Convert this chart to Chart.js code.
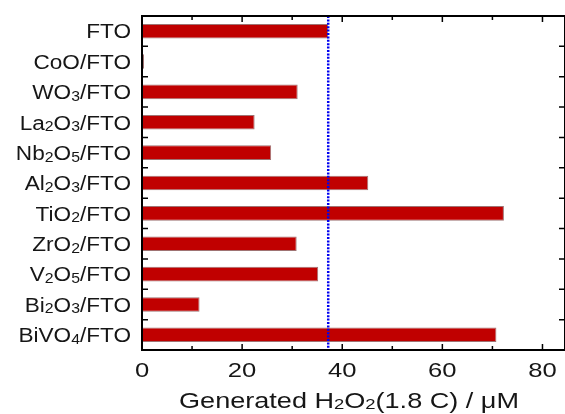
<!DOCTYPE html>
<html>
<head>
<meta charset="utf-8">
<script src="https://cdn.jsdelivr.net/npm/chart.js@4/dist/chart.umd.min.js"></script>
<style>
html, body { margin: 0; padding: 0; background: #fff; }
#wrap { width: 565px; height: 414px; }
</style>
</head>
<body>
<div id="wrap"><canvas id="h2o2Chart"></canvas></div>
<script>
// samples, top to bottom
const samples = ['FTO', 'CoO/FTO', 'WO₃/FTO', 'La₂O₃/FTO', 'Nb₂O₅/FTO', 'Al₂O₃/FTO',
                 'TiO₂/FTO', 'ZrO₂/FTO', 'V₂O₅/FTO', 'Bi₂O₃/FTO', 'BiVO₄/FTO'];
// generated H2O2 (uM)
const h2o2Values = [37.2, 0.4, 31.1, 22.5, 25.8, 45.2, 72.3, 30.9, 35.2, 11.5, 70.8];
const xTicks = [0, 20, 40, 60, 80];
const xMinorTicks = [10, 30, 50, 70];
const xTitle = 'Generated H₂O₂(1.8 C) / μM';
const ftoLevel = h2o2Values[0];

const FONT = 'Liberation Sans';
const subDigits = { '₀': '0', '₁': '1', '₂': '2', '₃': '3', '₄': '4', '₅': '5' };

// the original figure's text is a bit wide, so draw it stretched, with small subscripts
function textRuns(text) {
    const runs = [];
    for (const ch of text) {
        const sub = subDigits[ch] !== undefined;
        const c = sub ? subDigits[ch] : ch;
        const last = runs[runs.length - 1];
        if (last && last.sub === sub) last.t += c;
        else runs.push({ t: c, sub: sub });
    }
    return runs;
}

function drawLabel(ctx, text, x, y, size, sx, align) {
    const runs = textRuns(text);
    let w = 0;
    runs.forEach(function (r) {
        ctx.font = (r.sub ? Math.round(size * 0.7) : size) + 'px "' + FONT + '"';
        r.w = ctx.measureText(r.t).width;
        w += r.w;
    });
    let start = x;
    if (align === 'right') start = x - w * sx;
    if (align === 'center') start = x - w * sx / 2;
    ctx.save();
    ctx.translate(start, y);
    ctx.scale(sx, 1);
    ctx.textBaseline = 'alphabetic';
    ctx.textAlign = 'left';
    let cx = 0;
    runs.forEach(function (r) {
        ctx.font = (r.sub ? Math.round(size * 0.7) : size) + 'px "' + FONT + '"';
        ctx.fillText(r.t, cx, r.sub ? size * 0.08 : 0);
        cx += r.w;
    });
    ctx.restore();
}

const labelPlugin = {
    id: 'labels',
    afterDraw(chart) {
        const ctx = chart.ctx;
        const a = chart.chartArea;
        const x = chart.scales.x;
        const y = chart.scales.y;
        ctx.save();
        ctx.fillStyle = '#161616';
        samples.forEach(function (s, i) {
            drawLabel(ctx, s, a.left - 11, y.getPixelForValue(i) + 7.3, 20, 1.13, 'right');
        });
        xTicks.forEach(function (v) {
            drawLabel(ctx, String(v), x.getPixelForValue(v), a.bottom + 26.5, 21, 1.22, 'center');
        });
        drawLabel(ctx, xTitle, 349, a.bottom + 57.5, 22, 1.23, 'center');
        ctx.restore();
    }
};

const framePlugin = {
    id: 'frame',
    afterDatasetsDraw(chart) {
        const ctx = chart.ctx;
        const a = chart.chartArea;
        const x = chart.scales.x;
        const y = chart.scales.y;
        ctx.save();

        // dotted reference line at the bare FTO level
        const lx = x.getPixelForValue(ftoLevel);
        ctx.strokeStyle = '#0000f0';
        ctx.lineWidth = 2.5;
        ctx.setLineDash([2, 1.4]);
        ctx.beginPath();
        ctx.moveTo(lx, a.top);
        ctx.lineTo(lx, a.bottom);
        ctx.stroke();

        // frame
        ctx.setLineDash([]);
        ctx.strokeStyle = '#000';
        ctx.lineWidth = 2;
        ctx.strokeRect(a.left, a.top, a.right - a.left, a.bottom - a.top);

        // x ticks, inward, bottom and top
        ctx.lineWidth = 1.5;
        ctx.beginPath();
        xTicks.forEach(function (v) {
            const px = x.getPixelForValue(v);
            ctx.moveTo(px, a.bottom); ctx.lineTo(px, a.bottom - 6);
            ctx.moveTo(px, a.top); ctx.lineTo(px, a.top + 6);
        });
        xMinorTicks.forEach(function (v) {
            const px = x.getPixelForValue(v);
            ctx.moveTo(px, a.bottom); ctx.lineTo(px, a.bottom - 4);
            ctx.moveTo(px, a.top); ctx.lineTo(px, a.top + 4);
        });
        // y ticks between categories
        for (let i = 0; i < samples.length - 1; i++) {
            const py = (y.getPixelForValue(i) + y.getPixelForValue(i + 1)) / 2;
            ctx.moveTo(a.left, py); ctx.lineTo(a.left + 6, py);
            ctx.moveTo(a.right, py); ctx.lineTo(a.right - 6, py);
        }
        ctx.stroke();
        ctx.restore();
    }
};

const ctx = document.getElementById('h2o2Chart').getContext('2d');
new Chart(ctx, {
    type: 'bar',
    data: {
        labels: samples,
        datasets: [{
            label: 'Generated H2O2',
            data: h2o2Values,
            backgroundColor: '#c00000',
            borderColor: 'rgba(80, 0, 0, 0.55)',
            borderWidth: 1,
            borderSkipped: false,
            barPercentage: 0.48,
            categoryPercentage: 1
        }]
    },
    options: {
        indexAxis: 'y',
        responsive: true,
        maintainAspectRatio: false,
        animation: false,
        layout: {
            // the right border of the original plot sits just past the image edge
            padding: { top: 16, right: -3, left: 0, bottom: 0 }
        },
        plugins: {
            legend: { display: false },
            tooltip: { enabled: false }
        },
        scales: {
            x: {
                min: 0,
                max: 84.5,
                afterBuildTicks: function (scale) {
                    scale.ticks = xTicks.map(function (v) { return { value: v }; });
                },
                afterFit: function (scale) { scale.height = 64; },
                grid: { display: false, drawTicks: false },
                border: { display: false },
                ticks: { display: false }
            },
            y: {
                afterFit: function (scale) { scale.width = 142; },
                grid: { display: false, drawTicks: false },
                border: { display: false },
                ticks: { display: false }
            }
        }
    },
    plugins: [framePlugin, labelPlugin]
});
</script>
</body>
</html>
